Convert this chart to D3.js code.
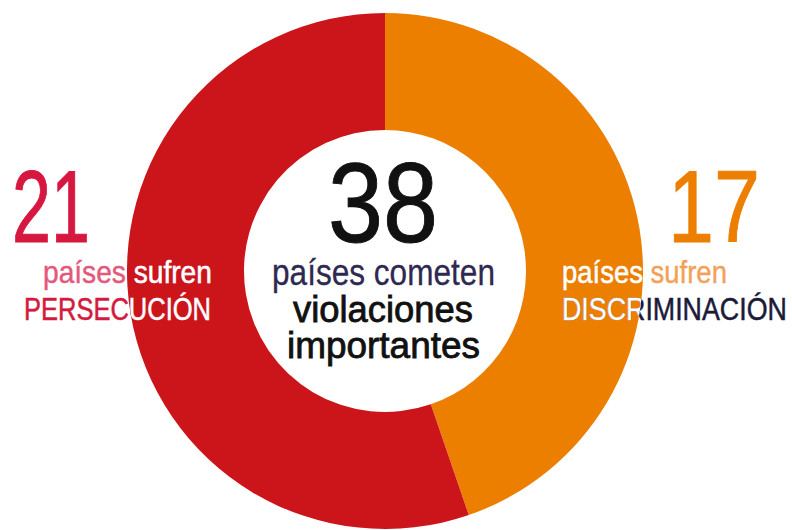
<!DOCTYPE html>
<html>
<head>
<meta charset="utf-8">
<script src="https://cdn.jsdelivr.net/npm/d3@7"></script>
<style>
  body { margin: 0; background: #fff; }
  svg { display: block; }
  text { font-family: "Liberation Sans", Arial, sans-serif; }
</style>
</head>
<body>
<div id="chart"></div>
<script>
// data, clockwise from 12 o'clock
const categories = ["DISCRIMINACIÓN", "PERSECUCIÓN"];
const values = [17, 21];
const sliceColors = ["#ec7e00", "#cc151b"];
const totalLabel = "38";
const centerLines = ["países cometen", "violaciones", "importantes"];
const subLabel = "países sufren";

const width = 792,
    height = 530,
    cx = 385,
    cy = 271,
    outerR = 258,
    innerR = 141;

const svg = d3.select("#chart").append("svg")
    .attr("width", width)
    .attr("height", height);

const pie = d3.pie().sort(null).value(d => d);
const arc = d3.arc().innerRadius(innerR).outerRadius(outerR);
const slices = pie(values);

// ring
const g = svg.append("g")
    .attr("transform", `translate(${cx},${cy})`);

g.selectAll("path.slice")
    .data(slices)
    .enter().append("path")
    .attr("class", "slice")
    .attr("fill", (d, i) => sliceColors[i])
    .attr("d", arc);

// clip = the ring, so label text turns white where it sits on a slice
// (no <g> allowed inside clipPath, so each path gets the transform)
svg.append("clipPath")
    .attr("id", "ringClip")
    .selectAll("path")
    .data(slices)
    .enter().append("path")
    .attr("transform", `translate(${cx},${cy})`)
    .attr("d", arc);

// condensed look: draw normal text, then squeeze it to the width seen in the picture
function squeezed(parent, txt, opts, color) {
    const t = parent.append("text")
        .attr("font-size", opts.size)
        .attr("fill", color)
        .text(txt);
    if (opts.stroke) t.attr("stroke", color).attr("stroke-width", opts.stroke);
    const natural = t.node().getComputedTextLength();
    t.attr("transform", `translate(${opts.x},${opts.y}) scale(${opts.w / natural},1)`);
    return t;
}

function label(txt, opts) {
    squeezed(svg, txt, opts, opts.color);
    if (opts.white) {
        const wg = svg.append("g").attr("clip-path", "url(#ringClip)");
        squeezed(wg, txt, opts, "#fff");
    }
}

// left: persecution
label(values[1], { x: 12, y: 242, size: 102, w: 78, color: "#d6173f", stroke: 1 });
label(subLabel, { x: 43, y: 283, size: 31, w: 169, color: "#e4587b", stroke: 0.4, white: true });
label(categories[1], { x: 24, y: 320, size: 31, w: 187, color: "#d31a40", stroke: 0.5, white: true });

// right: discrimination
label(values[0], { x: 668, y: 242, size: 102, w: 92, color: "#ec7e00", stroke: 1 });
label(subLabel, { x: 562, y: 283, size: 31, w: 165, color: "#f2a258", stroke: 0.4, white: true });
label(categories[0], { x: 562, y: 320, size: 31, w: 225, color: "#1b1a38", stroke: 0.5, white: true });

// centre
label(totalLabel, { x: 328, y: 242, size: 114, w: 110, color: "#111", stroke: 1 });
label(centerLines[0], { x: 272, y: 285, size: 36, w: 223, color: "#2e2950", stroke: 0.3 });
label(centerLines[1], { x: 293, y: 322, size: 36, w: 180, color: "#111", stroke: 0.8 });
label(centerLines[2], { x: 287, y: 358, size: 36, w: 193, color: "#111", stroke: 0.8 });
</script>
</body>
</html>
